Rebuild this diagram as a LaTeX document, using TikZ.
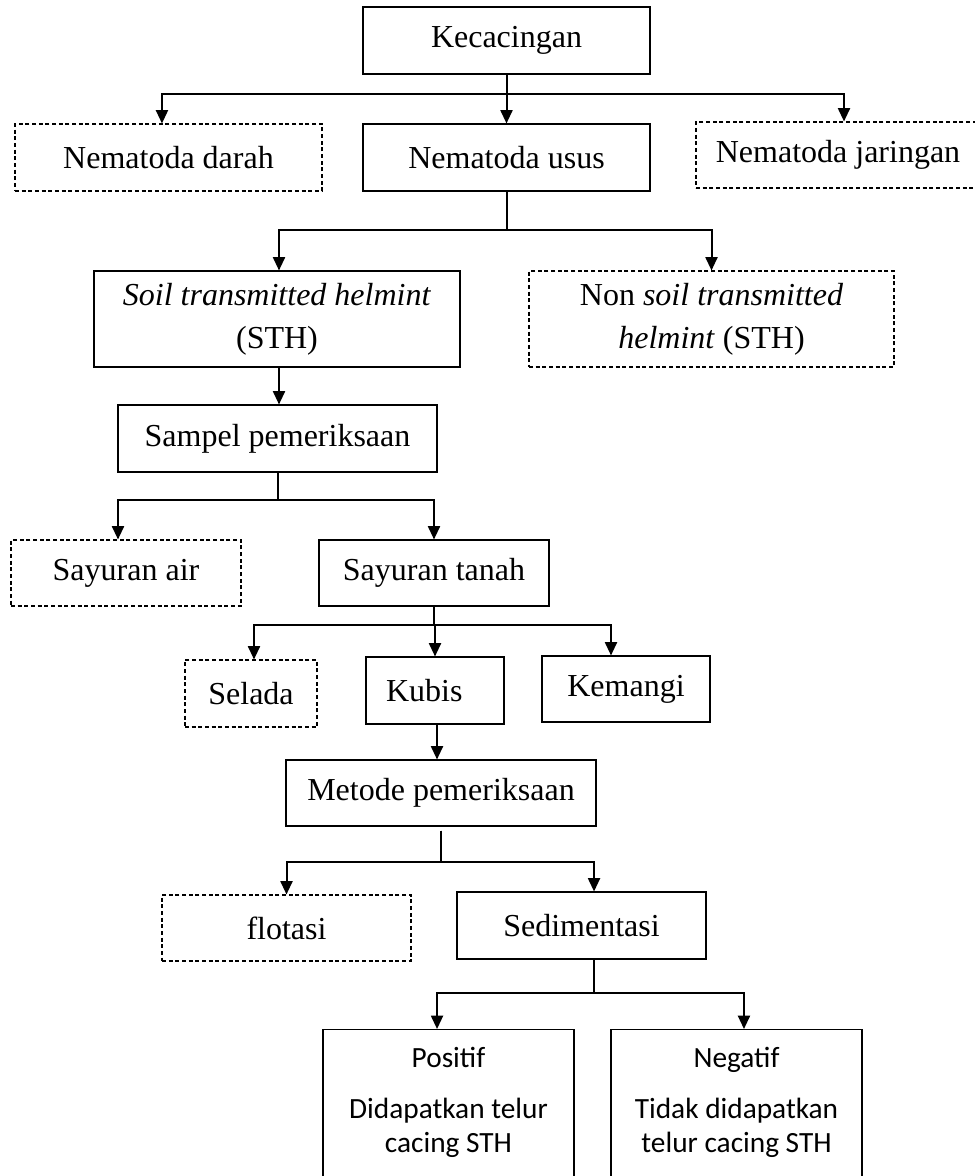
\documentclass[tikz,border=0pt]{standalone}
\usepackage{fontspec}
\setmainfont{Liberation Serif}
\newfontfamily\calibri{Carlito}
\usepackage{tikz}
\usetikzlibrary{arrows.meta}

\begin{document}
\begin{tikzpicture}[x=0.75pt, y=-0.75pt,
        main/.style = {draw, line width=0.8pt, inner sep=0pt, font=\fontsize{24}{32}\selectfont},
        dbox/.style = {main, dash pattern=on 3pt off 2pt},
        arr/.style = {line width=1.5pt, -{Triangle[length=10pt, width=9pt]}}]
        \useasboundingbox (0,0) rectangle (974,1176);
        % Nodes
        \node[main, minimum width=215.25pt, minimum height=50.25pt] (kec) at (506.5,40.5) {Kecacingan};
        \node[dbox, minimum width=230.25pt, minimum height=50.25pt] (darah) at (168.5,157.5) {Nematoda darah};
        \node[main, minimum width=215.25pt, minimum height=50.25pt] (usus) at (506.5,157.5) {Nematoda usus};
        \node[dbox, minimum width=213pt, minimum height=49.5pt] (jar) at (838,155) {Nematoda jaringan};
        \node[main, align=center, minimum width=274.5pt, minimum height=72pt] (sth) at (277,319) {\textit{Soil transmitted helmint}\\(STH)};
        \node[dbox, align=center, minimum width=273.75pt, minimum height=72pt] (nonsth) at (711.5,319) {Non \textit{soil transmitted}\\\textit{helmint} (STH)};
        \node[main, minimum width=239.25pt, minimum height=50.25pt] (sampel) at (277.5,438.5) {Sampel pemeriksaan};
        \node[dbox, minimum width=172.5pt, minimum height=49.5pt] (air) at (126,573) {Sayuran air};
        \node[main, minimum width=172.5pt, minimum height=49.5pt] (tanah) at (434,573) {Sayuran tanah};
        \node[dbox, minimum width=99pt, minimum height=50.25pt] (selada) at (251,693.5) {Selada};
        \node[main, minimum width=103.5pt, minimum height=50.25pt] (kubis) at (435,690.5) {Kubis\hspace*{16pt}};
        \node[main, minimum width=126pt, minimum height=49.5pt] (kemangi) at (626,689) {Kemangi};
        \node[main, minimum width=232.5pt, minimum height=49.5pt] (metode) at (441,793) {Metode pemeriksaan};
        \node[dbox, minimum width=186.75pt, minimum height=49.5pt] (flotasi) at (286.5,928) {flotasi};
        \node[main, minimum width=186.75pt, minimum height=50.25pt] (sedi) at (581.5,925.5) {Sedimentasi};
        \node[main, anchor=north, font=\calibri\fontsize{22}{26}\selectfont] (pos) at (448.5,1029)
            {\parbox[t][150pt][t]{188.25pt}{\centering\rule{0pt}{28.5pt}Positif\\[12pt]Didapatkan telur\\cacing STH}};
        \node[main, anchor=north, font=\calibri\fontsize{22}{26}\selectfont] (neg) at (736.5,1029)
            {\parbox[t][150pt][t]{188.25pt}{\centering\rule{0pt}{28.5pt}Negatif\\[12pt]Tidak didapatkan\\telur cacing STH}};
        % Edges
        \draw[arr] (kec) -- (usus);
        \draw[arr] (kec.south) -- ++(0,19) -| ([xshift=-4.9pt]darah.north);
        \draw[arr] (kec.south) -- ++(0,19) -| ([xshift=4.5pt]jar.north);
        \draw[arr] (usus.south) -- ++(0,38) -| ([xshift=1.5pt]sth.north);
        \draw[arr] (usus.south) -- ++(0,38) -| (nonsth.north);
        \draw[arr] ([xshift=1.5pt]sth.south) -- ([xshift=1.5pt]sth.south |- sampel.north);
        \draw[arr] (sampel.south) -- ++(0,27) -| ([xshift=-6pt]air.north);
        \draw[arr] (sampel.south) -- ++(0,27) -| (tanah.north);
        \draw[arr] (tanah.south) -- ++(0,18) -| ([xshift=2.25pt]selada.north);
        \draw[arr] (tanah.south) -- ++(0,18) -| (kubis.north);
        \draw[arr] (tanah.south) -- ++(0,18) -| ([xshift=-11.25pt]kemangi.north);
        \draw[arr] ([xshift=1.5pt]kubis.south) -- ([xshift=1.5pt]kubis.south |- metode.north);
        \draw[arr] ([yshift=-3pt]metode.south) -- ++(0,31) -| (flotasi.north);
        \draw[arr] ([yshift=-3pt]metode.south) -- ++(0,31) -| ([xshift=9.4pt]sedi.north);
        \draw[arr] ([xshift=9.4pt]sedi.south) -- ++(0,33) -| ([xshift=-8.6pt]pos.north);
        \draw[arr] ([xshift=9.4pt]sedi.south) -- ++(0,33) -| ([xshift=5.6pt]neg.north);
    \end{tikzpicture}
\end{document}
